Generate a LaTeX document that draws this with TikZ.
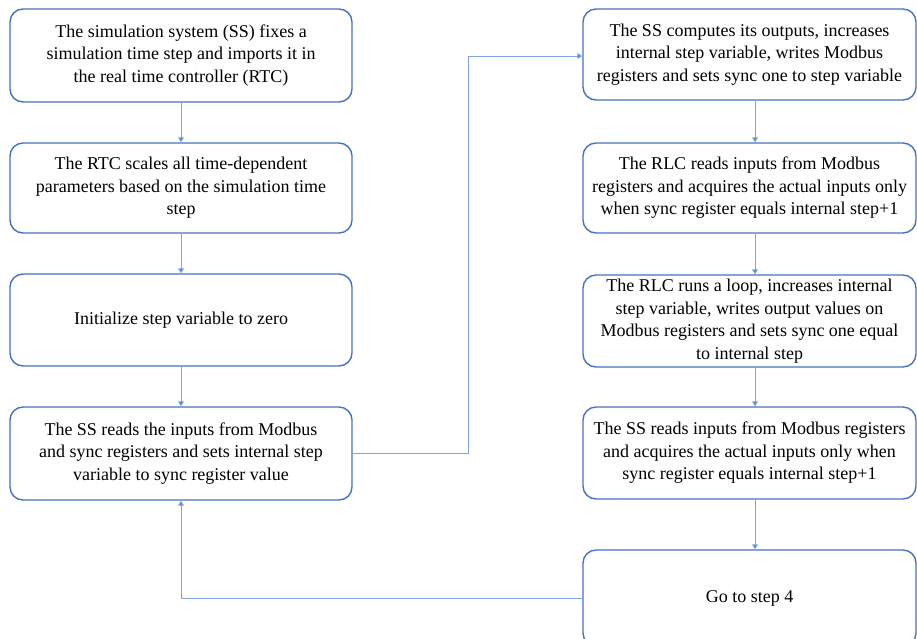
\documentclass[tikz,border=0pt]{standalone}
\usepackage{fontspec}
\setmainfont{Liberation Serif}
\usetikzlibrary{arrows.meta}
\definecolor{boxblue}{RGB}{68,114,196}
\definecolor{linkblue}{RGB}{128,164,224}
\tikzset{
  stepbox/.style={draw=boxblue,line width=1.4pt,rounded corners=13pt,fill=white,align=center,inner sep=0pt,
    font=\rmfamily\fontsize{18}{22.5}\selectfont},
  leftbox/.style={stepbox,minimum width=342pt},
  rightbox/.style={stepbox,minimum width=333pt},
  link/.style={draw=linkblue,line width=1pt,-{Triangle[width=6pt,length=5pt,fill=boxblue]}}
}
\begin{document}
\begin{tikzpicture}[x=1pt,y=-1pt]
  \useasboundingbox (0,0) rectangle (917,638);
  \clip (0,0) rectangle (917,638);
  \node[leftbox,minimum height=93pt] (s1) at (181,55.5) {The simulation system (SS) fixes a\\simulation time step and imports it in\\the real time controller (RTC)};
  \node[leftbox,minimum height=90pt] (s2) at (181,188) {The RTC scales all time-dependent\\parameters based on the simulation time\\step};
  \node[leftbox,minimum height=92pt] (s3) at (181,320) {Initialize step variable to zero};
  \node[leftbox,minimum height=93pt] (s4) at (181,453.5) {The SS reads the inputs from Modbus\\and sync registers and sets internal step\\variable to sync register value};
  \node[rightbox,minimum height=91pt] (s5) at (749.5,54.5) {The SS computes its outputs, increases\\internal step variable, writes Modbus\\registers and sets sync one to step variable};
  \node[rightbox,minimum height=90pt] (s6) at (749.5,188) {The RLC reads inputs from Modbus\\registers and acquires the actual inputs only\\when sync register equals internal step+1};
  \node[rightbox,minimum height=92pt] (s7) at (749.5,321) {The RLC runs a loop, increases internal\\step variable, writes output values on\\Modbus registers and sets sync one equal\\to internal step};
  \node[rightbox,minimum height=92pt] (s8) at (749.5,453) {The SS reads inputs from Modbus registers\\and acquires the actual inputs only when\\sync register equals internal step+1};
  \node[rightbox,minimum height=96pt] (s9) at (749.5,598) {Go to step 4};
  \coordinate (up) at (468,56);
  \foreach \a/\b in {s1/s2,s2/s3,s3/s4}\draw[link] (\a) -- (\b);
  \foreach \a/\b in {s5/s6,s6/s7,s7/s8,s8/s9}\draw[link] ([xshift=5.5pt]\a.south) -- ([xshift=5.5pt]\b.north);
  \draw[link] (s4.east) -| (up) -- (s5.west |- up);
  \draw[link] (s9.west) -| (s4.south);
\end{tikzpicture}
\end{document}
